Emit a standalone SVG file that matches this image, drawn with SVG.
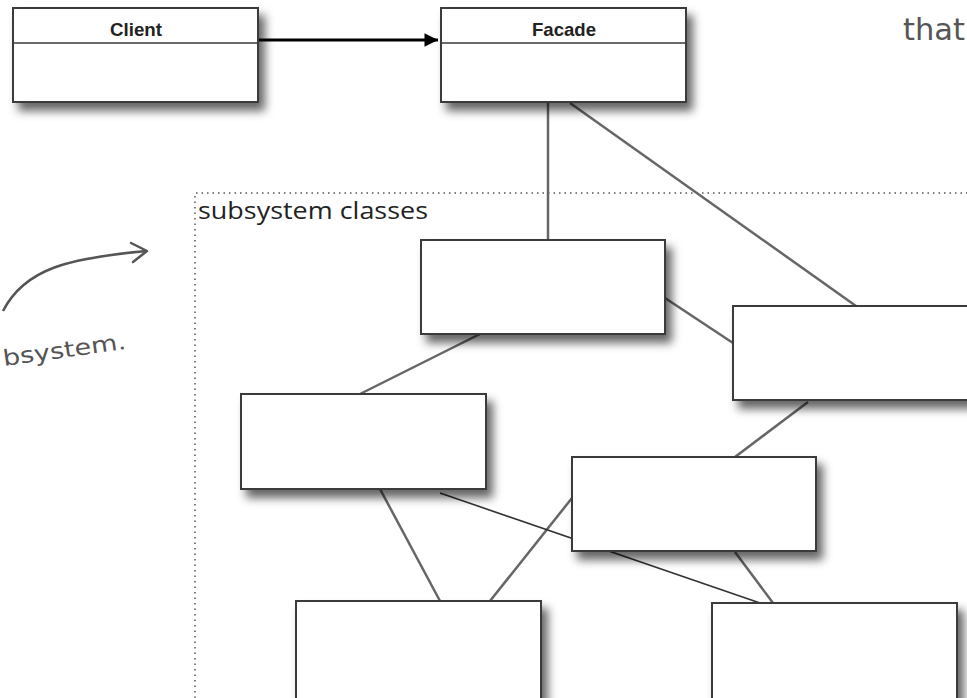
<svg xmlns="http://www.w3.org/2000/svg" width="967" height="698" viewBox="0 0 967 698">
<style>
.box{fill:#fff;stroke:#3a3a3a;stroke-width:2}
.hdr{stroke:#3a3a3a;stroke-width:1.5}
.cls{font-family:"Liberation Sans",Arial,sans-serif;font-weight:bold;font-size:19px;fill:#222}
.con{stroke:#666;stroke-width:2.5;fill:none}
.hand{font-family:"DejaVu Sans",sans-serif;fill:#555}
</style>
<defs>
<filter id="sh" x="-20%" y="-30%" width="150%" height="180%">
<feDropShadow dx="6" dy="8" stdDeviation="5" flood-color="#000" flood-opacity="0.6"/>
</filter>
<marker id="ah" viewBox="0 0 10 10" refX="10" refY="5" markerWidth="7" markerHeight="4.5" markerUnits="strokeWidth" orient="auto">
<path d="M0,0 L10,5 L0,10 z" fill="#000"/>
</marker>
</defs>
<rect x="0" y="0" width="967" height="698" fill="#fff"/>

<!-- subsystem frame -->
<g id="subsystem">
<path d="M195,698 L195,193 L967,193" fill="none" stroke="#555" stroke-width="1.5" stroke-dasharray="1.5,4"/>
<text x="198" y="219" font-family="'Open Sans',sans-serif" font-size="24" fill="#222" textLength="230" lengthAdjust="spacingAndGlyphs">subsystem classes</text>
</g>

<!-- handwritten annotations -->
<g id="annotations">
<text x="903" y="40" class="hand" font-size="30" textLength="62" lengthAdjust="spacingAndGlyphs">that</text>
<text x="4" y="366" class="hand" font-size="22" transform="rotate(-8 4 366)" textLength="124" lengthAdjust="spacingAndGlyphs">bsystem.</text>
<path d="M3,311 C25,268 70,258 147,251" fill="none" stroke="#555" stroke-width="2.5"/>
<path d="M131,243 L147,251 L133,262" fill="none" stroke="#555" stroke-width="2.5" stroke-linecap="round" stroke-linejoin="round"/>
</g>

<!-- connectors -->
<g id="connectors">
<line x1="259" y1="40" x2="438" y2="40" stroke="#000" stroke-width="3" marker-end="url(#ah)"/>
<line class="con" x1="548" y1="103" x2="548" y2="240"/>
<line class="con" x1="570" y1="103" x2="856" y2="306"/>
<line class="con" x1="665" y1="298" x2="733" y2="343"/>
<line class="con" x1="480" y1="334" x2="360" y2="394"/>
<line class="con" x1="808" y1="402" x2="735" y2="457"/>
<line class="con" x1="380" y1="489" x2="440" y2="601"/>
<line class="con" x1="572" y1="498" x2="490" y2="601"/>
<line x1="440" y1="493" x2="760" y2="603" stroke="#333" stroke-width="1.6"/>
<line class="con" x1="735" y1="552" x2="773" y2="603"/>
</g>

<g id="client">
<rect class="box" x="13" y="8" width="245" height="94" filter="url(#sh)"/>
<line class="hdr" x1="13" y1="43" x2="258" y2="43"/>
<text class="cls" x="136" y="36" text-anchor="middle" textLength="52" lengthAdjust="spacingAndGlyphs">Client</text>
</g>

<g id="facade">
<rect class="box" x="441" y="8" width="245" height="94" filter="url(#sh)"/>
<line class="hdr" x1="441" y1="43" x2="686" y2="43"/>
<text class="cls" x="564" y="36" text-anchor="middle" textLength="64" lengthAdjust="spacingAndGlyphs">Facade</text>
</g>

<g id="classA"><rect class="box" x="421" y="240" width="244" height="94" filter="url(#sh)"/></g>
<g id="classB"><rect class="box" x="733" y="306" width="250" height="94" filter="url(#sh)"/></g>
<g id="classC"><rect class="box" x="241" y="394" width="245" height="95" filter="url(#sh)"/></g>
<g id="classD"><rect class="box" x="572" y="457" width="244" height="94" filter="url(#sh)"/></g>
<g id="classE"><rect class="box" x="296" y="601" width="245" height="110" filter="url(#sh)"/></g>
<g id="classF"><rect class="box" x="712" y="603" width="245" height="110" filter="url(#sh)"/></g>
</svg>
